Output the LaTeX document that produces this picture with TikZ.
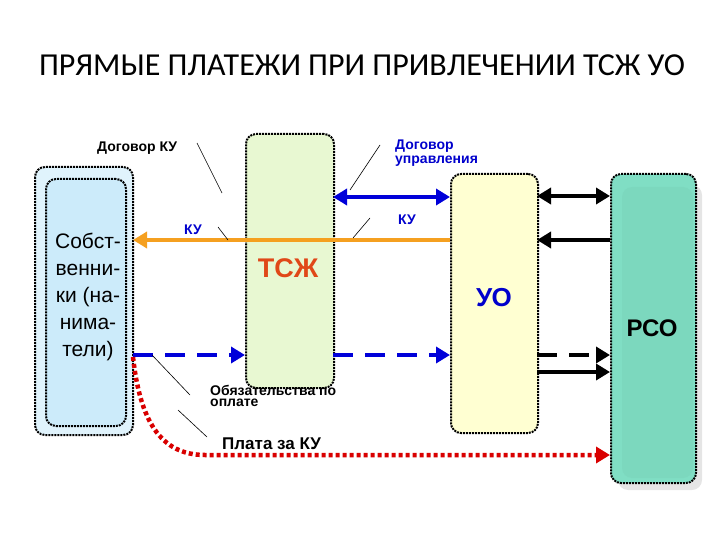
\documentclass[tikz,border=0pt]{standalone}
\usepackage{fontspec}
\setmainfont{Liberation Sans}
\newfontfamily\ttl{Carlito}
\usetikzlibrary{arrows.meta}
\begin{document}
\begin{tikzpicture}[x=1pt,y=-1pt,
  box/.style={draw=black,densely dotted,line width=2pt,rounded corners=10pt},
  lab/.style={font=\bfseries\fontsize{14}{14}\selectfont,inner sep=0},
  thin/.style={draw=black,line width=0.6pt},
  arr/.style={line width=4.5pt,-{Triangle[length=14pt,width=16pt]}},
  darr/.style={line width=4.5pt,{Triangle[length=14pt,width=16pt]}-{Triangle[length=14pt,width=16pt]}}]
\useasboundingbox (0,0) rectangle (720,540);
\definecolor{owner}{HTML}{CCEBFA}
\definecolor{tsz}{HTML}{E8F8D2}
\definecolor{uo}{HTML}{FFFFD2}
\definecolor{rso}{HTML}{80DEC4}
\definecolor{orng}{HTML}{F5A020}
\definecolor{tred}{HTML}{E04818}
\node[font=\ttl\fontsize{32}{32}\selectfont] (title) at (362,65) {ПРЯМЫЕ ПЛАТЕЖИ ПРИ ПРИВЛЕЧЕНИИ ТСЖ УО};
% boxes
\fill[owner!60,rounded corners=10pt] (35,167) rectangle (133,435);
\draw[box] (35,167) rectangle (133,435);
\node[box,fill=owner,minimum width=80pt,minimum height=247pt,anchor=north west] (own) at (45,178) {};
\node[align=center,font=\fontsize{21}{27}\selectfont] (owntxt) at (88,297) {Собст-\\венни-\\ки (на-\\нима-\\тели)};
\node[box,fill=tsz,minimum width=88pt,minimum height=254pt,anchor=north west] (tsz) at (245,133) {};
\node[font=\bfseries\fontsize{27}{27}\selectfont,text=tred] (tsztxt) at (288,268) {ТСЖ};
\node[box,fill=uo,minimum width=87pt,minimum height=259pt,anchor=north west] (uo) at (450,173) {};
\node[font=\bfseries\fontsize{26}{26}\selectfont,text=blue!80!black] (uotxt) at (494,298) {УО};
\fill[black!10,rounded corners=10pt] (618,185) rectangle (702,490);
\node[box,fill=rso,minimum width=85pt,minimum height=309pt,anchor=north west] (rso) at (610,173) {};
\fill[rso!90!black,opacity=0.25,rounded corners=10pt] (622,187) rectangle (693,478);
\node[font=\bfseries\fontsize{24}{24}\selectfont] (rsotxt) at (652,328) {РСО};
% connectors
\coordinate (o1) at (133,240); \coordinate (u1) at (450,240);
\draw[orng,line width=4.5pt,-{Triangle[length=14pt,width=16pt]}] (u1) -- (o1);
\coordinate (t1) at (333,197); \coordinate (u2) at (450,197);
\draw[blue!85!black,darr] (t1) -- (u2);
\coordinate (o2) at (133,355); \coordinate (t2) at (245,355);
\coordinate (t3) at (333,355); \coordinate (u3) at (450,355);
\draw[blue!85!black,arr,dash pattern=on 20pt off 12pt] (o2) -- (t2);
\draw[blue!85!black,arr,dash pattern=on 20pt off 12pt] (t3) -- (u3);
\coordinate (ua) at (537,196); \coordinate (ra) at (610,196);
\draw[black,darr] (ua) -- (ra);
\coordinate (ub) at (537,240); \coordinate (rb) at (610,240);
\draw[black,arr] (rb) -- (ub);
\coordinate (uc) at (537,355); \coordinate (rc) at (610,355);
\draw[black,arr,dash pattern=on 20pt off 12pt] (uc) -- (rc);
\coordinate (ud) at (537,372); \coordinate (rd) at (610,372);
\draw[black,arr] (ud) -- (rd);
\coordinate (oe) at (133,357); \coordinate (re) at (610,455);
\draw[red!85!black,line width=4.5pt,dash pattern=on 4pt off 3pt,-{Triangle[length=14pt,width=16pt]}]
  (oe) .. controls (140,420) and (160,455) .. (205,455) -- (re);
% labels
\node[lab,anchor=west] (l1) at (97,148) {Договор КУ};
\node[lab,anchor=west,align=left,text=blue!80!black] (l2) at (395,153) {Договор\\управления};
\node[lab,text=blue!80!black] (l3) at (193,230) {КУ};
\node[lab,text=blue!80!black] (l4) at (407,220) {КУ};
\node[lab,anchor=west,align=left,font=\bfseries\fontsize{14}{11}\selectfont] (l5) at (210,396) {Обязательства по\\оплате};
\node[lab,anchor=west,font=\bfseries\fontsize{17}{17}\selectfont] (l6) at (222,444) {Плата за КУ};
\draw[thin] (197,143) -- (222,193);
\draw[thin] (218,227) -- (228,240);
\draw[thin] (380,145) -- (350,190);
\draw[thin] (370,218) -- (353,238);
\draw[thin] (152,355) -- (190,395);
\draw[thin] (178,410) -- (207,437);
\end{tikzpicture}
\end{document}
